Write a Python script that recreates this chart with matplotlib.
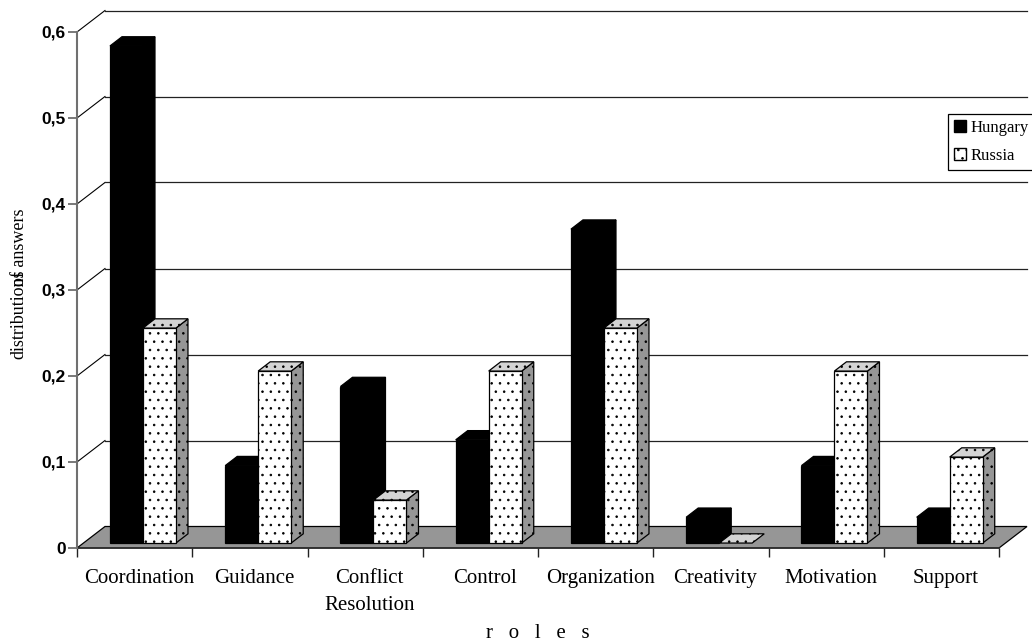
import matplotlib
matplotlib.use("Agg")
import matplotlib.pyplot as plt
from matplotlib.patches import Polygon, Patch

categories = ["Coordination", "Guidance", "Conflict\nResolution", "Control",
              "Organization", "Creativity", "Motivation", "Support"]
hungary = [0.578, 0.09, 0.182, 0.12, 0.365, 0.03, 0.09, 0.03]
russia = [0.25, 0.20, 0.05, 0.20, 0.25, 0.0, 0.20, 0.10]
y_ticks = [0, 0.1, 0.2, 0.3, 0.4, 0.5, 0.6]

# fake 3d: depth z goes 0..1 from front of the floor to the back wall
DEPTH_X = 28 / 115.25
DEPTH_Y = 21.5 / 860
BAR_W = 33 / 115.25
BAR_START = 26.5 / 115.25
Z_FRONT = 0.23
Z_BACK = 0.66
GRAY = "#969696"


def proj(x, v, z):
    return (x + z * DEPTH_X, v + z * DEPTH_Y)


def poly(ax, pts, face, hatch=None, z=2):
    ax.add_patch(Polygon(pts, closed=True, facecolor=face, edgecolor="black", hatch=hatch,
                         linewidth=0.9, clip_on=False, zorder=z))


def draw_bar(ax, x, v, face, top, side, hatch, z):
    a = proj(x, 0, Z_FRONT)
    b = proj(x + BAR_W, 0, Z_FRONT)
    c = proj(x + BAR_W, v, Z_FRONT)
    d = proj(x, v, Z_FRONT)
    b2 = proj(x + BAR_W, 0, Z_BACK)
    c2 = proj(x + BAR_W, v, Z_BACK)
    d2 = proj(x, v, Z_BACK)
    if v > 0:
        poly(ax, [b, b2, c2, c], side, hatch, z)
        poly(ax, [a, b, c, d], face, hatch, z)
    poly(ax, [d, c, c2, d2], top, hatch, z)


plt.rcParams["hatch.linewidth"] = 0.6
fig = plt.figure(figsize=(10.32, 6.42), dpi=100)
ax = fig.add_axes([77 / 1032, 94 / 642, 922 / 1032, 516 / 642])
ax.set_xlim(0, 8)
ax.set_ylim(0, 0.6)
ax.patch.set_visible(False)
for s in ["top", "right"]:
    ax.spines[s].set_visible(False)
ax.spines["left"].set_color("#707070")
ax.spines["left"].set_linewidth(1.5)
ax.spines["bottom"].set_color("#303030")
ax.spines["bottom"].set_linewidth(1.1)
ax.spines["left"].set_zorder(5)
ax.spines["bottom"].set_zorder(1)

# floor
poly(ax, [proj(0, 0, 0), proj(8, 0, 0), proj(8, 0, 1), proj(0, 0, 1)], GRAY, z=1)

# back wall lines and the diagonals to the axis
for t in y_ticks[1:]:
    p0 = proj(0, t, 0)
    p1 = proj(0, t, 1)
    p2 = proj(8, t, 1)
    ax.plot([p0[0], p1[0]], [p0[1], p1[1]], color="black", lw=0.8, clip_on=False, zorder=1)
    ax.plot([p1[0], p2[0]], [p1[1], p2[1]], color="#222222", lw=0.9, clip_on=False, zorder=1)

# bars, left to right
for i in range(len(categories)):
    z = 3 + i * 2
    draw_bar(ax, i + BAR_START, hungary[i], "black", "black", "black", None, z)
    draw_bar(ax, i + BAR_START + BAR_W, russia[i], "white", "#d4d4d4", GRAY, "..", z + 1)

ax.set_yticks(y_ticks)
ax.set_yticklabels(["0", "0,1", "0,2", "0,3", "0,4", "0,5", "0,6"],
                   family="Liberation Sans", fontweight="bold", fontsize=12.5)
ax.tick_params(axis="y", length=6.5, width=1.1, color="#555555", pad=1.5)
ax.set_xticks(range(9))
ax.set_xticklabels([])
ax.tick_params(axis="x", which="major", length=6.5, width=1, color="#222222")
ax.set_xticks([i + 0.5 + 0.04 for i in range(8)], minor=True)
ax.set_xticklabels(categories, minor=True, family="Liberation Serif", fontsize=15,
                   linespacing=1.6)
ax.tick_params(axis="x", which="minor", length=0, pad=15)

fig.text(486 / 1032, 1 - 638 / 642, "r   o   l   e   s", family="Liberation Serif", fontsize=15,
         ha="left", va="baseline")
# the two parts of this label overlap in the original
fig.text(19 / 1032, 1 - 359 / 642, "distributions", family="Liberation Serif", fontsize=13,
         rotation=90, ha="center", va="bottom")
fig.text(19 / 1032, 1 - 286 / 642, "of answers", family="Liberation Serif", fontsize=13,
         rotation=90, ha="center", va="bottom")

handles = [Patch(facecolor="black", edgecolor="black", label="Hungary"),
           Patch(facecolor="white", edgecolor="black", hatch="..", label="Russia")]
leg = ax.legend(handles=handles, loc="upper left", bbox_to_anchor=(948 / 1032, 1 - 114 / 642),
                bbox_transform=fig.transFigure, borderaxespad=0, fancybox=False, framealpha=1,
                edgecolor="black", handlelength=0.7, handleheight=0.7, handletextpad=0.3,
                borderpad=0.35, labelspacing=0.72, prop={"family": "Liberation Serif", "size": 12})
leg.get_frame().set_linewidth(0.9)
leg.set_zorder(30)

fig.savefig("out.png", dpi=100)
